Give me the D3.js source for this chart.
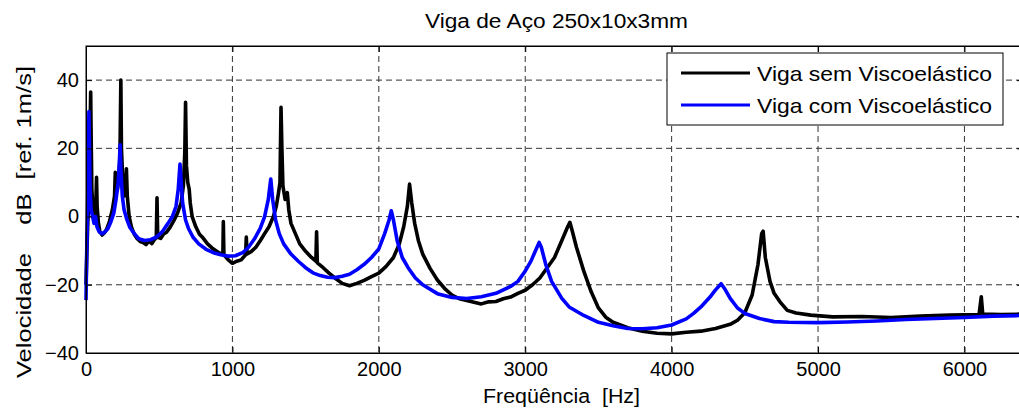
<!DOCTYPE html>
<html>
<head>
<meta charset="utf-8">
<script src="https://cdn.jsdelivr.net/npm/d3@7"></script>
<style>
  body { margin: 0; background: #fff; overflow: hidden; }
  svg { display: block; font-family: "Liberation Sans", Arial, sans-serif; }
</style>
</head>
<body>
<div id="chart"></div>
<script>
// Frequency response, steel beam 250x10x3mm
const title = "Viga de Aço 250x10x3mm";
const xLabel = "Freqüência  [Hz]";
const yLabel = "Velocidade    dB  [ref. 1m/s]";
const seriesNames = ["Viga sem Viscoelástico", "Viga com Viscoelástico"];
const xTicks = [0, 1000, 2000, 3000, 4000, 5000, 6000];
const yTicks = [-40, -20, 0, 20, 40];

// [Hz, dB] - without viscoelastic layer
const semVisco = [
  [0, -20], [5, -12], [12, -2], [20, 5], [26, 16], [30, 31], [32, 36.5], [35, 24], [40, 8],
  [48, 2], [55, 0], [62, 2], [68, 5], [72, 11.5], [76, 3], [85, -2], [95, -4.5], [110, -5.4],
  [125, -4.8], [140, -3.8], [160, -1.5], [180, 2], [195, 6], [200, 13], [205, 7], [215, 8],
  [225, 12], [232, 18], [238, 40], [242, 20], [250, 12], [260, 6], [270, 8], [276, 14],
  [282, 6], [295, 0], [310, -3], [330, -5.2], [350, -6.5], [370, -7.3], [390, -7.6],
  [410, -8.2], [430, -7.2], [450, -7.9], [470, -6.6], [480, -6.2], [485, 5.5], [490, -6.1],
  [510, -6.4], [530, -5.1], [550, -4.6], [575, -3.1], [600, -1.2], [625, 1], [650, 4],
  [665, 9], [675, 19], [680, 33.5], [686, 15], [695, 10], [705, 8], [712, 4], [725, 0],
  [750, -3], [775, -5.2], [800, -6.3], [830, -8], [860, -9.2], [890, -10.1], [920, -11],
  [935, -10.4], [938, -1.5], [942, -11.2], [970, -12.6], [1000, -13.7], [1030, -13.1],
  [1060, -12.7], [1090, -11.2], [1095, -6], [1100, -11], [1130, -10.2], [1160, -9],
  [1190, -7.1], [1220, -5], [1250, -3], [1280, 0], [1300, 3], [1315, 7], [1325, 10],
  [1332, 32], [1338, 20], [1345, 9], [1360, 5], [1375, 7], [1385, 2], [1400, -2],
  [1430, -5], [1460, -8], [1500, -10.2], [1540, -12], [1570, -13.1], [1575, -4.5],
  [1580, -13.6], [1620, -15], [1660, -16.6], [1700, -18], [1750, -19.6], [1800, -20.3],
  [1850, -19.6], [1900, -18.7], [1950, -17.6], [2000, -16.6], [2050, -14.6], [2100, -12],
  [2140, -8], [2170, -3], [2195, 3], [2210, 9.5], [2225, 4], [2245, -2], [2270, -7],
  [2300, -11], [2350, -15.2], [2400, -18.6], [2450, -21.1], [2500, -23], [2550, -24.1],
  [2600, -24.6], [2650, -25.1], [2700, -25.6], [2750, -25], [2800, -24.9], [2850, -24.1],
  [2900, -23.6], [2950, -22.5], [3000, -21.6], [3050, -20], [3100, -18], [3150, -15],
  [3200, -12], [3250, -7], [3290, -3], [3305, -1.7], [3320, -4], [3350, -9], [3400, -16],
  [3450, -22], [3500, -26.8], [3550, -29.5], [3600, -31], [3700, -32.6], [3800, -33.6],
  [3900, -34.2], [4000, -34.4], [4100, -33.9], [4200, -33.6], [4300, -32.8], [4400, -31.6],
  [4450, -30.4], [4500, -28.2], [4550, -23], [4590, -14], [4615, -5], [4625, -4.3],
  [4640, -12], [4672, -19], [4700, -22.5], [4740, -25], [4790, -27.5], [4850, -28.3],
  [4950, -28.9], [5100, -29.4], [5300, -29.3], [5500, -29.6], [5700, -29.2], [5900, -28.9],
  [6100, -28.7], [6115, -23.5], [6125, -28.6], [6250, -28.7], [6400, -28.6]
];

// [Hz, dB] - with viscoelastic layer
const comVisco = [
  [0, -24.5], [5, -10], [10, 0], [15, 15], [20, 30.8], [24, 20], [28, 8], [35, 2],
  [45, 0], [55, -2], [65, 0], [75, -3], [90, -4.5], [110, -5], [130, -4.5], [150, -3.5],
  [170, -1.5], [190, 1], [205, 5], [220, 10], [228, 16], [233, 21], [238, 14], [248, 6],
  [260, 2], [280, -1], [300, -3.2], [330, -5], [360, -6.5], [400, -7], [440, -6.8],
  [480, -6], [520, -4.5], [560, -2], [590, 0], [615, 3], [630, 8], [642, 15.4], [650, 10],
  [660, 4], [680, -1], [700, -3.5], [730, -6], [770, -8], [820, -9.6], [870, -10.6],
  [920, -11.2], [970, -11.6], [1020, -11.5], [1070, -10.6], [1110, -9], [1150, -6.6],
  [1190, -3.5], [1220, 0], [1245, 5], [1262, 11], [1275, 5], [1295, -1], [1320, -5],
  [1350, -8], [1400, -11], [1450, -13.1], [1500, -15], [1550, -16.5], [1600, -17.3],
  [1650, -17.8], [1700, -17.9], [1750, -17.5], [1800, -16.9], [1850, -15.6], [1900, -14],
  [1950, -12], [2000, -9.5], [2040, -5], [2070, -1], [2085, 1.7], [2100, -1], [2125, -7],
  [2160, -12], [2200, -15], [2250, -18], [2300, -20], [2400, -22.6], [2500, -23.7],
  [2600, -24], [2700, -23.5], [2800, -22.5], [2900, -20.5], [2950, -19], [3000, -16],
  [3040, -13], [3070, -10], [3095, -7.6], [3110, -9], [3140, -14], [3180, -19],
  [3250, -24], [3300, -26.5], [3400, -29], [3500, -31], [3600, -32], [3700, -32.8],
  [3800, -32.9], [3900, -32.6], [4000, -31.8], [4100, -30], [4150, -28.4], [4200, -26.5],
  [4262, -23.6], [4300, -21.5], [4338, -19.7], [4360, -21], [4400, -24], [4450, -26.8],
  [4500, -28.4], [4600, -29.9], [4700, -30.8], [4800, -31], [5000, -31.1], [5200, -30.9],
  [5400, -30.6], [5600, -30.2], [5800, -29.9], [6000, -29.6], [6200, -29.2], [6400, -29]
];

const margin = { top: 46, left: 86 };
const W = 1019, H = 414;
const plotW = 937, plotH = 307;

function createScales() {
  const xScale = d3.scaleLinear().domain([0, 6400]).range([0, plotW]);
  const yScale = d3.scaleLinear().domain([-40, 50]).range([plotH, 0]);
  return { xScale, yScale };
}

function createSvg() {
  return d3.select("#chart").append("svg")
    .attr("width", W)
    .attr("height", H);
}

function drawGrid(g, xScale, yScale) {
  g.append("g").selectAll("line").data(xTicks.filter((d) => d > 0)).enter()
    .append("line")
    .attr("x1", (d) => xScale(d)).attr("x2", (d) => xScale(d))
    .attr("y1", 0).attr("y2", plotH)
    .attr("stroke", "#333").attr("stroke-width", 1)
    .attr("stroke-dasharray", "6,4");
  g.append("g").selectAll("line").data(yTicks.filter((d) => d > -40)).enter()
    .append("line")
    .attr("x1", 0).attr("x2", plotW)
    .attr("y1", (d) => yScale(d)).attr("y2", (d) => yScale(d))
    .attr("stroke", "#333").attr("stroke-width", 1)
    .attr("stroke-dasharray", "6,4");
}

function drawLines(g, xScale, yScale) {
  const line = d3.line().x((d) => xScale(d[0])).y((d) => yScale(d[1]));
  g.append("path").datum(semVisco)
    .attr("fill", "none").attr("stroke", "#000")
    .attr("stroke-width", 3.6).attr("stroke-linejoin", "round")
    .attr("d", line);
  g.append("path").datum(comVisco)
    .attr("fill", "none").attr("stroke", "#0000ff")
    .attr("stroke-width", 3.6).attr("stroke-linejoin", "round")
    .attr("d", line);
}

function addAxes(g, xScale, yScale) {
  // ticks point inward, like matlab
  const xAxis = d3.axisBottom(xScale).tickValues(xTicks).tickSize(-6).tickPadding(9)
    .tickFormat(d3.format("d"));
  const yAxis = d3.axisLeft(yScale).tickValues(yTicks).tickSize(-6).tickPadding(7)
    .tickFormat(d3.format("d"));
  const xTop = d3.axisTop(xScale).tickValues(xTicks).tickSize(-6).tickFormat("");
  const yRight = d3.axisRight(yScale).tickValues(yTicks).tickSize(-6).tickFormat("");

  g.append("g").attr("transform", `translate(0,${plotH})`).call(xAxis);
  g.append("g").call(yAxis);
  g.append("g").call(xTop);
  g.append("g").attr("transform", `translate(${plotW},0)`).call(yRight);

  g.selectAll(".domain").attr("stroke", "#000");
  g.selectAll(".tick line").attr("stroke", "#000");
  g.selectAll(".tick text")
    .style("font-size", "20px")
    .style("font-family", "'Liberation Sans', Arial, sans-serif")
    .attr("fill", "#000");

  g.append("rect").attr("width", plotW).attr("height", plotH)
    .attr("fill", "none").attr("stroke", "#000").attr("stroke-width", 1);
}

function addLabels(svg) {
  svg.append("text")
    .attr("x", 425).attr("y", 28)
    .attr("textLength", 263).attr("lengthAdjust", "spacingAndGlyphs")
    .style("font-size", "20px")
    .text(title);
  svg.append("text")
    .attr("x", 483).attr("y", 403)
    .attr("textLength", 157).attr("lengthAdjust", "spacingAndGlyphs")
    .style("font-size", "20px")
    .style("white-space", "pre")
    .text(xLabel);
  svg.append("text")
    .attr("transform", "translate(31,378) rotate(-90)")
    .attr("textLength", 312).attr("lengthAdjust", "spacingAndGlyphs")
    .style("font-size", "21px")
    .style("white-space", "pre")
    .text(yLabel);
}

function addLegend(svg) {
  const lg = svg.append("g").attr("transform", "translate(667,53)");
  lg.append("rect").attr("width", 336).attr("height", 72)
    .attr("fill", "#fff").attr("stroke", "#000").attr("stroke-width", 1);
  const colors = ["#000", "#0000ff"];
  seriesNames.forEach((name, i) => {
    const y = 20 + i * 32;
    lg.append("line").attr("x1", 14).attr("x2", 83).attr("y1", y).attr("y2", y)
      .attr("stroke", colors[i]).attr("stroke-width", 3);
    lg.append("text").attr("x", 90).attr("y", y + 8)
      .attr("textLength", 235).attr("lengthAdjust", "spacingAndGlyphs")
      .style("font-size", "21px").text(name);
  });
}

const { xScale, yScale } = createScales();
const svg = createSvg();
const g = svg.append("g").attr("transform", `translate(${margin.left},${margin.top})`);
drawGrid(g, xScale, yScale);
drawLines(g, xScale, yScale);
addAxes(g, xScale, yScale);
addLabels(svg);
addLegend(svg);
</script>
</body>
</html>
